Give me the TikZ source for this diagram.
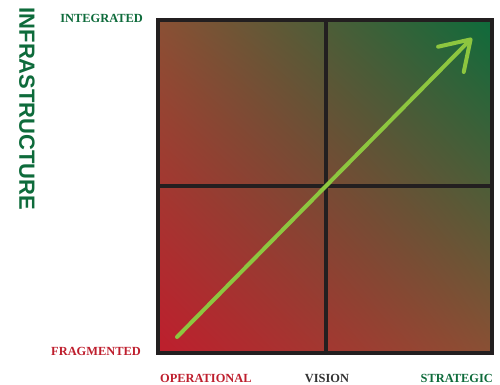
\documentclass[tikz,border=0pt]{standalone}
\usepackage{fontspec}
\setmainfont{Liberation Serif}
\setsansfont{Liberation Sans}
\usetikzlibrary{arrows.meta,shadings}
\definecolor{fragred}{HTML}{BE1E2D}
\definecolor{integgreen}{HTML}{0E6B3B}
\definecolor{midbrown}{HTML}{8A5034}
\definecolor{framegray}{HTML}{231F20}
\definecolor{visiongray}{HTML}{333333}
\definecolor{arrowgreen}{HTML}{8DC63F}
\tikzset{
    axislabel/.style={font=\bfseries\fontsize{12.4}{13}\selectfont, inner sep=0pt},
}
\begin{document}
\begin{tikzpicture}[x=1pt,y=-1pt]
    \useasboundingbox (0,0) rectangle (500,385);
    \pgfmathsetmacro{\boxleft}{158};
    \pgfmathsetmacro{\boxright}{492};
    \pgfmathsetmacro{\boxtop}{20};
    \pgfmathsetmacro{\boxbottom}{353};
    \shade[upper left=midbrown, upper right=integgreen, lower left=fragred, lower right=midbrown]
        (\boxleft,\boxtop) rectangle (\boxright,\boxbottom);
    \draw[framegray, line width=3.5pt] (\boxleft,\boxtop) rectangle (\boxright,\boxbottom);
    \draw[framegray, line width=3.5pt] (326,\boxtop) -- (326,\boxbottom);
    \draw[framegray, line width=3.5pt] (\boxleft,186) -- (\boxright,186);
    % growth arrow
    \coordinate (start) at (177,337);
    \coordinate (tip) at (472,38);
    \draw[arrowgreen, line width=4pt, line cap=round,
        -{Straight Barb[length=28pt,width=36pt,round]}] (start) -- (tip);
    % labels
    \node[axislabel, text=integgreen, anchor=east] (integrated) at (143,18) {INTEGRATED};
    \node[axislabel, text=fragred, anchor=east] (fragmented) at (141,351) {FRAGMENTED};
    \node[axislabel, text=fragred, anchor=west] (operational) at (160,378) {OPERATIONAL};
    \node[axislabel, text=visiongray] (vision) at (327,378) {VISION};
    \node[axislabel, text=integgreen, anchor=east] (strategic) at (493,378) {STRATEGIC};
    \node[font=\sffamily\bfseries\fontsize{22}{22}\selectfont, text=integgreen, rotate=-90,
        inner sep=0pt] (infra) at (27,109) {INFRASTRUCTURE};
\end{tikzpicture}
\end{document}
